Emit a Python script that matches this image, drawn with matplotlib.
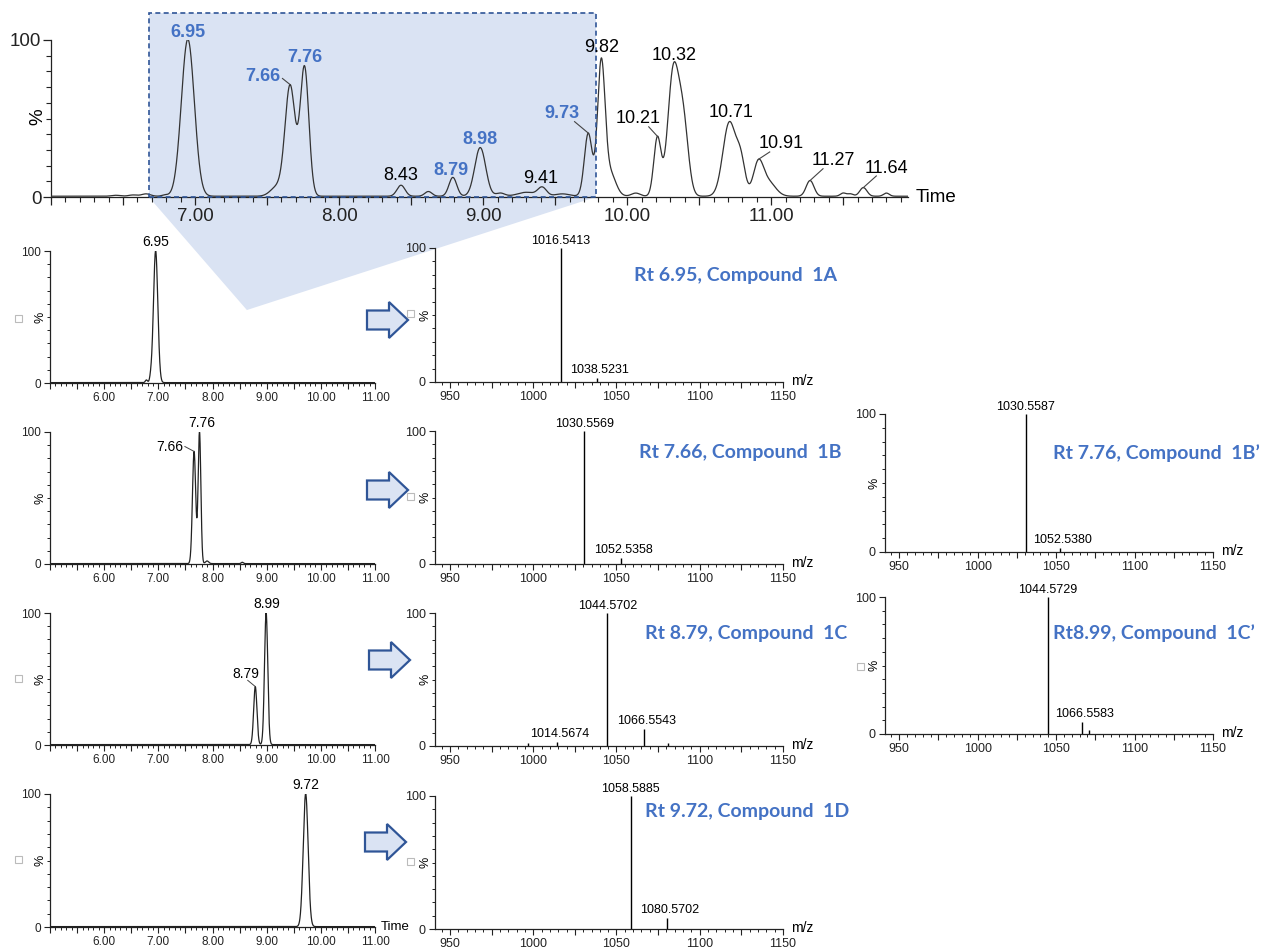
import numpy as np
import matplotlib
matplotlib.use("Agg")
import matplotlib.pyplot as plt
from matplotlib.patches import Polygon, Rectangle
from matplotlib.ticker import MultipleLocator, FixedLocator, FuncFormatter
import matplotlib.transforms as mtransforms

W, H = 1261, 949
plt.rcParams['font.family'] = ['Liberation Sans', 'DejaVu Sans']

BLUE = '#4472C4'
FILL = '#DAE3F3'
EDGE = '#2F5597'
INK = '#222222'

# ---------------- data ----------------
# Total ion chromatogram: labelled peaks (apex time / height % / width min)
tic_rt = [6.95, 7.66, 7.76, 8.43, 8.79, 8.98, 9.41, 9.73, 9.82,
          10.21, 10.32, 10.71, 10.91, 11.27, 11.64]
tic_height = [100, 70, 82, 7, 12, 31, 5.5, 40, 83,
              37, 78, 47, 20, 10, 5.5]
tic_width = [0.045, 0.035, 0.030, 0.028, 0.027, 0.038, 0.030, 0.027, 0.026,
             0.025, 0.038, 0.045, 0.035, 0.027, 0.025]
# unlabelled minor components and shoulders
tic_minor_rt = [6.45, 6.57, 6.66, 6.79, 7.57, 8.62, 9.12, 9.30, 9.55, 9.88,
                10.06, 10.39, 10.79, 10.98, 11.50, 11.55, 11.80]
tic_minor_height = [0.6, 0.8, 1.5, 0.8, 6, 3, 2, 2.5, 1.5, 15,
                    2, 45, 20, 9, 2, 1.5, 2]
tic_minor_width = [0.03, 0.03, 0.03, 0.02, 0.045, 0.025, 0.03, 0.06, 0.05, 0.04,
                   0.03, 0.035, 0.03, 0.05, 0.02, 0.02, 0.02]
tic_highlight = [6.95, 7.66, 7.76, 8.79, 8.98, 9.73]
zoom_window = (6.679, 9.783)

# Extracted ion chromatograms, one row per compound
eic_rt = [[6.78, 6.86, 6.95], [7.66, 7.76, 7.90, 8.55], [8.79, 8.99], [9.72]]
eic_height = [[2, 3, 100], [85, 100, 2, 1], [44, 100], [100]]
eic_width = [[0.02, 0.02, 0.04], [0.03, 0.025, 0.03, 0.02], [0.03, 0.03], [0.045]]
eic_labels = [[6.95], [7.66, 7.76], [8.79, 8.99], [9.72]]

# Mass spectra (m/z, relative intensity %)
mz_1A = [1016.5413, 1038.5231]
int_1A = [100, 3]
mz_1B = [1030.5569, 1052.5358]
int_1B = [100, 4.5]
mz_1B2 = [1030.5587, 1052.5380]
int_1B2 = [100, 3]
mz_1C = [997.0, 1014.5674, 1044.5702, 1066.5543, 1081.0]
int_1C = [2.5, 3, 100, 13, 2.5]
mz_1C2 = [1044.5729, 1066.5583, 1071.0]
int_1C2 = [100, 9, 3]
mz_1D = [1058.5885, 1080.5702]
int_1D = [100, 8]

titles = ["Rt 6.95, Compound  1A", "Rt 7.66, Compound  1B",
          "Rt 7.76, Compound  1B\u2019", "Rt 8.79, Compound  1C",
          "Rt8.99, Compound  1C\u2019", "Rt 9.72, Compound  1D"]

# ---------------- helpers ----------------
fig = plt.figure(figsize=(W / 100, H / 100), dpi=100)
pix = mtransforms.Affine2D().scale(1 / W, -1 / H).translate(0, 1) + fig.transFigure


def px_axes(x0, x1, ytop, ybot):
    ax = fig.add_axes([x0 / W, 1 - ybot / H, (x1 - x0) / W, (ybot - ytop) / H])
    ax.set_facecolor('none')
    for s in ('top', 'right'):
        ax.spines[s].set_visible(False)
    for s in ('left', 'bottom'):
        ax.spines[s].set_linewidth(0.9)
        ax.spines[s].set_color(INK)
    return ax


def trace(t, rts, hs, ws, base=0.0):
    y = np.full_like(t, base)
    for r, h, w in zip(rts, hs, ws):
        y += h * np.exp(-(t - r) ** 2 / (2 * w ** 2))
    return y


def time_ticks(ax, lo, hi, show_from):
    ax.xaxis.set_major_locator(MultipleLocator(0.5))
    ax.xaxis.set_minor_locator(MultipleLocator(0.1))
    ax.xaxis.set_major_formatter(FuncFormatter(
        lambda v, p: f"{v:.2f}" if abs(v - round(v)) < 1e-6 and v >= show_from - 1e-6 else ""))
    ax.set_xlim(lo, hi)


def pct_ticks(ax):
    ax.set_ylim(0, 100)
    ax.yaxis.set_major_locator(FixedLocator([0, 100]))
    ax.yaxis.set_minor_locator(MultipleLocator(10))


def square(x, y):
    fig.add_artist(Rectangle((x - 3.5, y - 3.5), 7, 7, transform=pix,
                             fill=False, ec='#bbbbbb', lw=0.8))


def arrow(x0, yc):
    pts = [(x0, yc - 9.5), (x0 + 22, yc - 9.5), (x0 + 22, yc - 18), (x0 + 41, yc),
           (x0 + 22, yc + 18), (x0 + 22, yc + 9.5), (x0, yc + 9.5)]
    fig.add_artist(Polygon(pts, closed=True, transform=pix, fc=FILL, ec=EDGE, lw=1.6,
                           joinstyle='miter'))


# ---------------- top chromatogram ----------------
ax = px_axes(51, 908, 40, 197)
t = np.linspace(6.0, 11.95, 3000)
y = trace(t, tic_rt + tic_minor_rt, tic_height + tic_minor_height,
          tic_width + tic_minor_width, base=0.5)
ax.plot(t, y, color='#333333', lw=0.9, zorder=3)
time_ticks(ax, 6.0, 11.95, 7.0)
pct_ticks(ax)
ax.tick_params(axis='both', which='major', labelsize=13.5, length=6, width=0.9, colors=INK)
ax.tick_params(axis='both', which='minor', length=3.5, width=0.8, colors=INK)
ax.tick_params(axis='x', which='major', pad=2)
ax.tick_params(axis='y', which='major', pad=1)

x0, x1 = zoom_window
ax.add_patch(Rectangle((x0, 0), x1 - x0, 117.4, fc=FILL, ec='none', zorder=0.5, clip_on=False))
ax.add_patch(Rectangle((x0, 0), x1 - x0, 117.4, fill=False, ec=EDGE, lw=1.2,
                       ls=(0, (3, 2)), zorder=4, clip_on=False))
ax.add_patch(Polygon([(x0, 0), (x1, 0), (7.36, -72)], closed=True, fc=FILL, ec='none',
                     zorder=0.5, clip_on=False))

# label layout for each labelled peak: text centre (time, %), leader start or None
tic_label_pos = {
    6.95: (6.95, 105, None), 7.66: (7.47, 77, (7.607, 75.5)),
    7.76: (7.763, 89, None), 8.43: (8.43, 13.5, None),
    8.79: (8.78, 17, None), 8.98: (8.975, 36.5, None),
    9.41: (9.40, 12, None), 9.73: (9.55, 53, (9.635, 48)),
    9.82: (9.82, 95, None), 10.21: (10.075, 50, (10.15, 44.7)),
    10.32: (10.326, 90, None), 10.71: (10.725, 54, None),
    10.91: (11.07, 34, (10.99, 28.7)), 11.27: (11.434, 23, (11.36, 18)),
    11.64: (11.80, 18, (11.73, 13.4)),
}
for rt, h in zip(tic_rt, tic_height):
    lx, ly, lead = tic_label_pos[rt]
    hi = rt in tic_highlight
    ax.text(lx, ly, f"{rt:.2f}", ha='center', va='center', fontsize=13,
            color=BLUE if hi else 'black', fontweight='bold' if hi else 'normal',
            zorder=5, clip_on=False)
    if lead is not None:
        apex = float(np.interp(rt, t, y))
        ax.plot([lead[0], rt], [lead[1], apex], color='#444444', lw=0.8,
                zorder=5, clip_on=False)
fig.text(38 / W, 1 - 117 / H, "%", rotation=90, fontsize=13.5, ha='center', va='center')
fig.text(916 / W, 1 - 198 / H, "Time", fontsize=13.5, ha='left', va='center')

# ---------------- extracted ion chromatograms ----------------
eic_rows = [(251, 383), (432, 564), (613, 745), (794, 927)]
eic_label_pos = [
    {6.95: (6.95, 101.5, None)},
    {7.66: (7.21, 89, (7.49, 89)), 7.76: (7.80, 101.5, None)},
    {8.79: (8.62, 54, (8.65, 49)), 8.99: (9.01, 101.5, None)},
    {9.72: (9.73, 101.5, None)},
]
te = np.linspace(5.0, 11.0, 3000)
for i, (yt, yb) in enumerate(eic_rows):
    a = px_axes(50, 375, yt, yb)
    ye = trace(te, eic_rt[i], eic_height[i], eic_width[i], base=0.3)
    a.plot(te, ye, color='#222222', lw=0.9)
    time_ticks(a, 5.0, 11.0, 6.0)
    pct_ticks(a)
    a.tick_params(axis='both', which='major', labelsize=8.5, length=4.5, width=0.8,
                  colors=INK, pad=2)
    a.tick_params(axis='both', which='minor', length=2.5, width=0.7, colors=INK)
    for rt in eic_labels[i]:
        lx, ly, lead = eic_label_pos[i][rt]
        if lead is None:
            a.text(lx, ly, f"{rt:.2f}", ha='center', va='bottom', fontsize=10,
                   clip_on=False)
        else:
            a.text(lx, ly, f"{rt:.2f}", ha='center', va='center', fontsize=10,
                   clip_on=False)
            apex = float(np.interp(rt, te, ye))
            a.plot([lead[0], rt], [lead[1], apex], color='#444444', lw=0.7, clip_on=False)
    fig.text(40 / W, 1 - ((yt + yb) / 2) / H, "%", rotation=90, fontsize=9,
             ha='center', va='center')
    if i == 3:
        a.annotate("Time", xy=(1, 0), xycoords='axes fraction', xytext=(4, 0),
                   textcoords='offset points', fontsize=9.5, ha='left', va='center')


# ---------------- mass spectra ----------------
def spectrum(x0, x1, yt, yb, mz, inten, title, title_xy):
    a = px_axes(x0, x1, yt, yb)
    a.vlines(mz, 0, inten, color='black', lw=1.0)
    a.set_xlim(941, 1150)
    a.xaxis.set_major_locator(MultipleLocator(25))
    a.xaxis.set_minor_locator(MultipleLocator(5))
    a.xaxis.set_major_formatter(FuncFormatter(
        lambda v, p: f"{v:.0f}" if abs(v % 50) < 1e-6 else ""))
    pct_ticks(a)
    a.tick_params(axis='both', which='major', labelsize=9, length=4.5, width=0.8,
                  colors=INK, pad=2)
    a.tick_params(axis='both', which='minor', length=2.5, width=0.7, colors=INK)
    for m, v in zip(mz, inten):
        if v >= 100:
            a.text(m, 101, f"{m:.4f}", ha='center', va='bottom', fontsize=9, clip_on=False)
        elif abs(m - round(m)) > 1e-6:
            a.text(m + 1.5, v + 1.5, f"{m:.4f}", ha='center', va='bottom', fontsize=9,
                   clip_on=False)
    a.annotate("m/z", xy=(1, 0), xycoords='axes fraction', xytext=(6, 1),
               textcoords='offset points', fontsize=10, ha='left', va='center')
    fig.text((x0 - 10) / W, 1 - ((yt + yb) / 2) / H, "%", rotation=90, fontsize=9,
             ha='center', va='center')
    fig.text(title_xy[0] / W, 1 - title_xy[1] / H, title, color=BLUE, fontsize=14,
             fontweight='bold', family=['Lato', 'DejaVu Sans'], ha='left', va='center')
    return a


spectrum(435, 783, 248, 382, mz_1A, int_1A, titles[0], (634, 275))
spectrum(435, 783, 431, 564, mz_1B, int_1B, titles[1], (639, 453))
spectrum(885, 1213, 414, 552, mz_1B2, int_1B2, titles[2], (1053, 453))
spectrum(435, 783, 613, 746, mz_1C, int_1C, titles[3], (645, 633))
spectrum(885, 1213, 597, 734, mz_1C2, int_1C2, titles[4], (1053, 633))
spectrum(435, 783, 796, 929, mz_1D, int_1D, titles[5], (645, 812))

# ---------------- arrows and markers ----------------
for ax0, yc in [(367, 320), (367, 490), (369, 660), (365, 842)]:
    arrow(ax0, yc)
for sx, sy in [(18, 318), (410, 313), (410, 497), (18, 679), (860, 667),
               (18, 860), (410, 862)]:
    square(sx, sy)

fig.savefig("out.png", dpi=100)
